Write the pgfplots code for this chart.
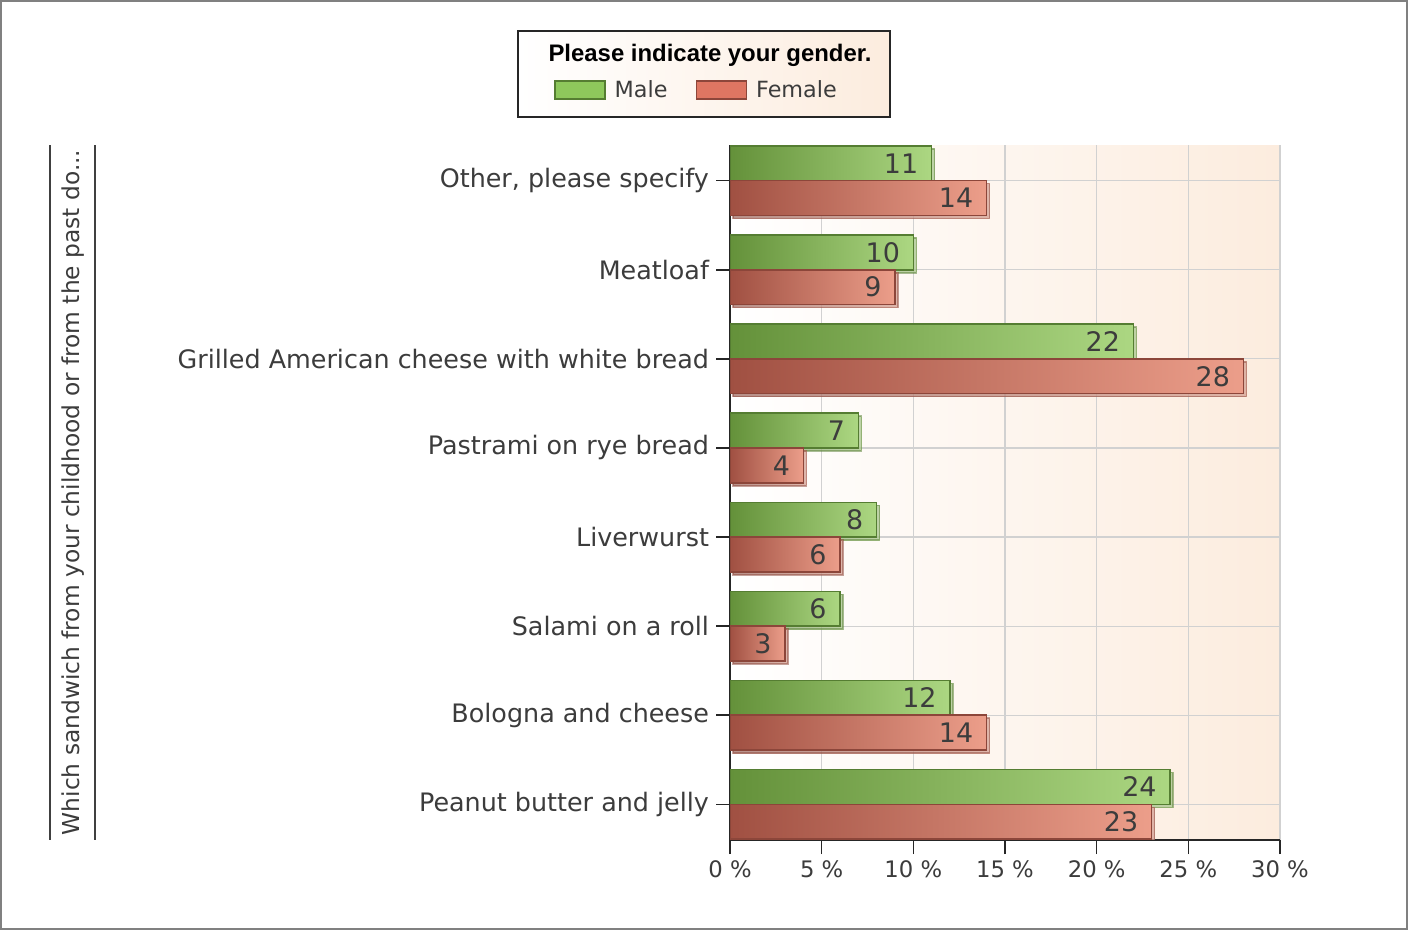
\documentclass[border=0pt]{standalone}
\usepackage{fontspec}
\setmainfont{DejaVu Sans}
\newfontfamily\libfont{Liberation Sans}
\usepackage{pgfplots}
\pgfplotsset{compat=1.18}
\usetikzlibrary{shadows}
\definecolor{txt}{RGB}{60,60,60}
\definecolor{peach}{RGB}{252,236,222}
\definecolor{gL}{RGB}{100,145,58}
\definecolor{gM}{RGB}{142,200,92}
\definecolor{gR}{RGB}{172,215,130}
\definecolor{gD}{RGB}{85,125,50}
\definecolor{rL}{RGB}{160,80,66}
\definecolor{rM}{RGB}{222,118,98}
\definecolor{rR}{RGB}{236,158,138}
\definecolor{rD}{RGB}{140,70,58}
\pgfplotsset{
  mstyle/.style={xbar, forget plot, bar shift=0.195, draw=gD, line width=0.8bp, left color=gL, middle color=gM, right color=gR,
    drop shadow={shadow xshift=1.5bp, shadow yshift=-1.5bp, fill=black!35}},
  fstyle/.style={xbar, forget plot, bar shift=-0.195, draw=rD, line width=0.8bp, left color=rL, middle color=rM, right color=rR,
    drop shadow={shadow xshift=1.5bp, shadow yshift=-1.5bp, fill=black!35}},
}
\begin{document}
\begin{tikzpicture}
\fill[white] (0,0) rectangle (704bp,465bp);
\draw[gray, line width=1bp] (0.5bp,0.5bp) rectangle (703.5bp,464.5bp);
% legend frame and title
\draw[black!85, line width=0.8bp, left color=white, right color=peach] (259bp,406.5bp) rectangle (445bp,449.5bp);
\node[font=\libfont\bfseries\fontsize{12}{14}\selectfont, text=black] at (355bp,437.5bp) {Please indicate your gender.};
% y axis title
\draw[line width=0.8bp, black!75] (25bp,45bp) -- (25bp,392.5bp);
\draw[line width=0.8bp, black!75] (47.5bp,45bp) -- (47.5bp,392.5bp);
\node[rotate=90, font=\fontsize{11.7}{14}\selectfont, text=txt] at (36.5bp,218.75bp) {Which sandwich from your childhood or from the past do...};
\begin{axis}[
  at={(365bp,45bp)}, anchor=south west,
  width=275bp, height=347.5bp, scale only axis,
  xbar,
  xmin=0, xmax=30, ymin=-0.4, ymax=7.4,
  ytick={0,...,7},
  yticklabels={Peanut butter and jelly, Bologna and cheese, Salami on a roll, Liverwurst, Pastrami on rye bread, Grilled American cheese with white bread, Meatloaf, {Other, please specify}},
  xtick={0,5,10,15,20,25,30},
  xticklabels={0 \%, 5 \%, 10 \%, 15 \%, 20 \%, 25 \%, 30 \%},
  axis x line*=bottom, axis y line*=left,
  axis line style={black!85, line width=0.8bp},
  tick align=outside, major tick length=7bp,
  tick style={black!85, line width=0.8bp},
  xmajorgrids, ymajorgrids,
  grid style={black!18, line width=0.6bp},
  axis background/.style={left color=white, right color=peach},
  yticklabel style={font=\fontsize{12.75}{15}\selectfont, text=txt},
  xticklabel style={font=\fontsize{11.4}{14}\selectfont, text=txt},
  /pgf/number format/assume math mode=true,
  bar width=0.39,
  nodes near coords,
  every node near coord/.append style={anchor=east, xshift=-3bp, font=\fontsize{13.5}{16}\selectfont, text=txt},
  legend style={at={(rel axis cs:-0.3205,1.079)}, anchor=west, draw=none, fill=none, legend columns=2, inner sep=0pt,
    font=\fontsize{11.2}{13}\selectfont, text=txt,
    /tikz/every even column/.append style={column sep=12bp}},
  legend image code/.code={\draw[#1] (0bp,-4.5bp) rectangle (25bp,4.5bp); \path (27.5bp,0bp);},
]
% Male (per-bar so each bar gets its own gradient)
\addplot[mstyle] coordinates {(24,0)};
\addplot[mstyle] coordinates {(12,1)};
\addplot[mstyle] coordinates {(6,2)};
\addplot[mstyle] coordinates {(8,3)};
\addplot[mstyle] coordinates {(7,4)};
\addplot[mstyle] coordinates {(22,5)};
\addplot[mstyle] coordinates {(10,6)};
\addplot[mstyle] coordinates {(11,7)};
% Female
\addplot[fstyle] coordinates {(23,0)};
\addplot[fstyle] coordinates {(14,1)};
\addplot[fstyle] coordinates {(3,2)};
\addplot[fstyle] coordinates {(6,3)};
\addplot[fstyle] coordinates {(4,4)};
\addplot[fstyle] coordinates {(28,5)};
\addplot[fstyle] coordinates {(9,6)};
\addplot[fstyle] coordinates {(14,7)};
\addlegendimage{fill=gM, draw=gD, line width=0.8bp}
\addlegendentry{Male}
\addlegendimage{fill=rM, draw=rD, line width=0.8bp}
\addlegendentry{Female}
\end{axis}
\end{tikzpicture}
\end{document}
